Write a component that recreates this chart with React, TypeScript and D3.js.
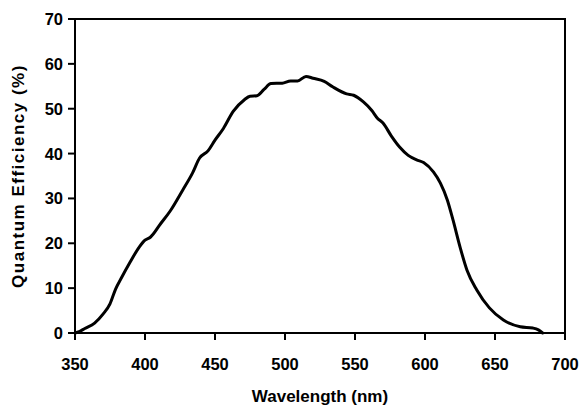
import React from "react";
import * as d3 from "d3";

const wavelengths = [350,353,357,364,370,375,379,383,389,396,400,404,411,418,427,434,439,445,450,456,463,471,475,480,485,490,498,504,509,515,520,528,534,544,549,556,562,566,570,576,582,588,594,599,606,611,616,620,625,630,637,646,656,668,677,681,684];
const efficiency = [0,0.3,1.0,2.2,4.2,6.5,9.8,12.2,15.6,19.2,20.7,21.4,24.3,27.2,31.9,35.7,39,40.6,43,45.6,49.4,52,52.8,52.9,54.3,55.6,55.7,56.2,56.2,57.2,56.8,56.1,54.9,53.3,53,51.5,49.6,47.9,46.8,43.9,41.4,39.6,38.6,38.0,35.9,33.4,29.6,25.2,19.2,14,9.6,5.6,2.9,1.4,1.1,0.7,0];
const xTicks = [350,400,450,500,550,600,650,700];
const yTicks = [0,10,20,30,40,50,60,70];

export default function App() {
  const W = 580, H = 410;
  const x = d3.scaleLinear().domain([350, 700]).range([75, 565]);
  const y = d3.scaleLinear().domain([0, 70]).range([333, 19]);
  const pts = wavelengths.map((w, i) => [w, efficiency[i]] as [number, number]);
  const line = d3.line<[number, number]>().x(d => x(d[0])).y(d => y(d[1])).curve(d3.curveMonotoneX);
  const font = "'Liberation Sans', Arial, sans-serif";
  return (
    <svg width={W} height={H} style={{ position: "absolute", left: 0, top: 0, background: "#fff" }}>
      <rect x={0} y={0} width={W} height={H} fill="#fff" />
      <rect x={x(350)} y={y(70)} width={x(700) - x(350)} height={y(0) - y(70)} fill="none" stroke="#000" strokeWidth={2} />
      {xTicks.map(t => (
        <g key={"x" + t}>
          <line x1={x(t)} x2={x(t)} y1={y(0)} y2={y(0) + 7} stroke="#000" strokeWidth={2} />
          <text x={x(t)} y={370} textAnchor="middle" fontFamily={font} fontWeight="bold" fontSize={16.5} fill="#000">{t}</text>
        </g>
      ))}
      {yTicks.map(t => (
        <g key={"y" + t}>
          <line x1={x(350) - 7} x2={x(350)} y1={y(t)} y2={y(t)} stroke="#000" strokeWidth={2} />
          <text x={63} y={y(t)} dy="0.36em" textAnchor="end" fontFamily={font} fontWeight="bold" fontSize={16.5} fill="#000">{t}</text>
        </g>
      ))}
      <path d={line(pts) || ""} fill="none" stroke="#000" strokeWidth={3} strokeLinejoin="round" strokeLinecap="round" />
      <text x={320} y={402} textAnchor="middle" fontFamily={font} fontWeight="bold" fontSize={17} fill="#000">Wavelength (nm)</text>
      <text transform={`translate(24,176) rotate(-90)`} textAnchor="middle" fontFamily={font} fontWeight="bold" fontSize={17} letterSpacing={1.5} fill="#000">Quantum Efficiency (%)</text>
    </svg>
  );
}
